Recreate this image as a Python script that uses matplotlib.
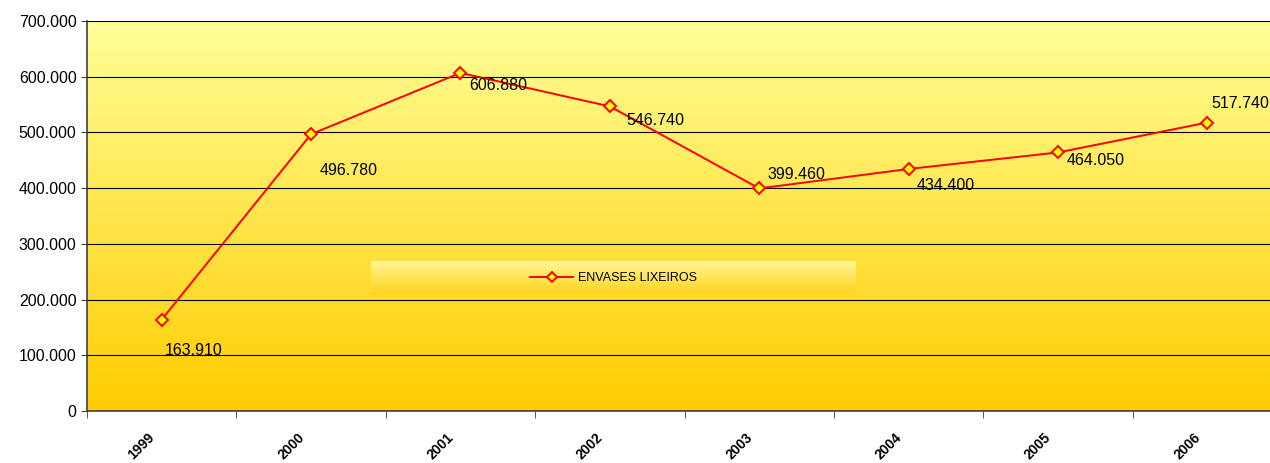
import matplotlib
matplotlib.use("Agg")
import matplotlib.pyplot as plt
import numpy as np
from matplotlib.colors import LinearSegmentedColormap
from matplotlib.ticker import FuncFormatter
from matplotlib.transforms import ScaledTranslation

years = ["1999", "2000", "2001", "2002", "2003", "2004", "2005", "2006"]
values = [163910, 496780, 606880, 546740, 399460, 434400, 464050, 517740]
series_name = "ENVASES LIXEIROS"

# label offsets in points (style only)
label_offsets = [(2, -22), (6, -26), (6, -9), (12, -10), (6, 10), (6, -12), (6, -6), (3, 14)]

plt.rcParams['font.family'] = ['Liberation Sans', 'DejaVu Sans']

fig = plt.figure(figsize=(12.7, 4.63), dpi=100)
ax = fig.add_axes([87/1270, 1-411/463, 1195/1270, 390/463])

cmap = LinearSegmentedColormap.from_list("g", ["#FFCC00", "#FFFF99"])
grad = np.linspace(0, 1, 256).reshape(-1, 1)
ax.imshow(grad, aspect='auto', cmap=cmap, origin='lower',
          extent=[0, 1, 0, 1], transform=ax.transAxes, zorder=0)

x = np.arange(len(years))
ax.set_xlim(-0.5, len(years) - 0.5)
ax.set_ylim(0, 700000)
ax.set_yticks(np.arange(0, 700001, 100000))
ax.yaxis.set_major_formatter(FuncFormatter(lambda v, p: "0" if v == 0 else f"{int(v):,}".replace(",", ".")))
ax.grid(axis='y', color='black', linewidth=0.8, zorder=1)
ax.set_axisbelow(False)

ax.plot(x, values, color='#FF0000', linewidth=1.4, marker='D', markersize=6.5,
        markerfacecolor='#FFFF00', markeredgecolor='#FF0000', markeredgewidth=1.4, zorder=3,
        label=series_name)

for xi, v, (dx, dy) in zip(x, values, label_offsets):
    ax.annotate(f"{v:,}".replace(",", "."), (xi, v), xytext=(dx, dy), textcoords='offset points',
                ha='left', va='center', fontsize=11.5, color='black', zorder=4)

ax.set_xticks(x)
ax.set_xticklabels(years, rotation=45, ha='right', rotation_mode='anchor',
                   fontsize=10, fontweight='bold')
ax.tick_params(axis='x', which='major', length=0, pad=14)
shift = ScaledTranslation(-14/100, 0, fig.dpi_scale_trans)
for lab in ax.get_xticklabels():
    lab.set_transform(lab.get_transform() + shift)
ax.set_xticks(np.arange(-0.5, len(years)), minor=True)
ax.tick_params(axis='x', which='minor', length=5, color='#404040')
ax.tick_params(axis='y', length=4, color='#404040', labelsize=11.5)

for s in ['top', 'right']:
    ax.spines[s].set_visible(False)
ax.spines['left'].set_color('#404040')
ax.spines['bottom'].set_color('#404040')
ax.spines['left'].set_linewidth(1.2)
ax.spines['bottom'].set_linewidth(1.2)

# legend box with gradient
lx0, lx1 = (371-87)/1195, (856-87)/1195
ly0, ly1 = (411-295)/390, (411-261)/390
cmap2 = LinearSegmentedColormap.from_list("g2", ["#FFD21A", "#FFF796"])
ax.imshow(grad, aspect='auto', cmap=cmap2, origin='lower',
          extent=[lx0, lx1, ly0, ly1], transform=ax.transAxes, zorder=2)
ax.set_xlim(-0.5, len(years) - 0.5)
ax.set_ylim(0, 700000)
leg = ax.legend(loc='center', bbox_to_anchor=((lx0+lx1)/2, (ly0+ly1)/2), frameon=False,
                fontsize=9, handlelength=3.5, handletextpad=0.4, markerscale=0.8)
leg.set_zorder(5)

fig.savefig("out.png", dpi=100)
